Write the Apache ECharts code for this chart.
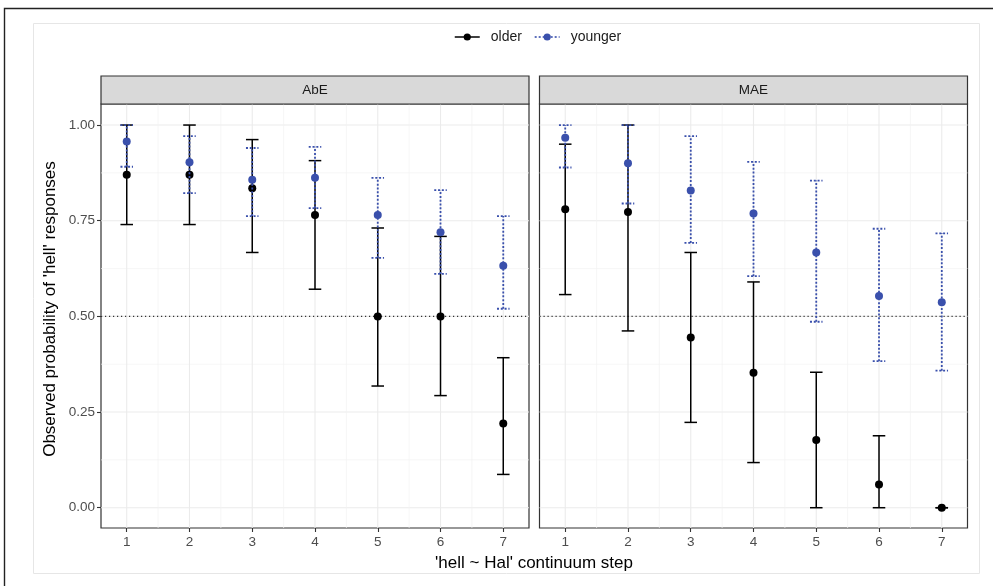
<!DOCTYPE html>
<html>
<head>
<meta charset="utf-8">
<script src="https://cdn.jsdelivr.net/npm/echarts@6/dist/echarts.min.js"></script>
<style>
html,body{margin:0;padding:0;background:#fff;}
#chart{width:993px;height:586px;}
</style>
</head>
<body>
<div id="chart"></div>
<script>
// ---- data ----
const steps = [1, 2, 3, 4, 5, 6, 7];
const panels = ['AbE', 'MAE'];
const groups = ['older', 'younger'];
const yTicks = [0, 0.25, 0.5, 0.75, 1];
const yTickLabels = ['0.00', '0.25', '0.50', '0.75', '1.00'];
const yMinorTicks = [0.125, 0.375, 0.625, 0.875];
const xTicks = [1, 2, 3, 4, 5, 6, 7];
const xMinorTicks = [1.5, 2.5, 3.5, 4.5, 5.5, 6.5];
const refLine = [0.5];

const abeOlderMean  = [0.870, 0.870, 0.835, 0.765, 0.500, 0.500, 0.220];
const abeOlderLow   = [0.740, 0.740, 0.667, 0.571, 0.318, 0.293, 0.087];
const abeOlderHigh  = [1.000, 1.000, 0.962, 0.907, 0.731, 0.709, 0.392];
const abeYoungerMean = [0.957, 0.903, 0.857, 0.862, 0.765, 0.720, 0.632];
const abeYoungerLow  = [0.891, 0.822, 0.762, 0.783, 0.653, 0.611, 0.520];
const abeYoungerHigh = [1.000, 0.971, 0.940, 0.943, 0.862, 0.830, 0.762];

const maeOlderMean  = [0.780, 0.773, 0.445, 0.353, 0.177, 0.061, 0.000];
const maeOlderLow   = [0.557, 0.462, 0.223, 0.118, 0.000, 0.000, 0.000];
const maeOlderHigh  = [0.950, 1.000, 0.667, 0.590, 0.354, 0.188, 0.000];
const maeYoungerMean = [0.967, 0.900, 0.829, 0.769, 0.667, 0.553, 0.537];
const maeYoungerLow  = [0.889, 0.795, 0.692, 0.605, 0.486, 0.383, 0.358];
const maeYoungerHigh = [1.000, 1.000, 0.971, 0.904, 0.855, 0.729, 0.717];

// ---- layout / style ----
const FONT = "'Liberation Sans', Arial, sans-serif";
const X_MIN = 0.59, X_MAX = 7.41, Y_MIN = -0.053, Y_MAX = 1.055;
const CAP = 0.2;
const colors = { older: '#000000', younger: '#3A50AC' };
const dash = { older: null, younger: [2, 1.8] };
const widths = { older: 1.5, younger: 1.8 };
const gridBoxes = [
  { left: 101, top: 104, width: 428, height: 424 },
  { left: 539.5, top: 104, width: 428, height: 424 }
];

const panelData = {
  AbE: {
    older:   { mean: abeOlderMean, low: abeOlderLow, high: abeOlderHigh },
    younger: { mean: abeYoungerMean, low: abeYoungerLow, high: abeYoungerHigh }
  },
  MAE: {
    older:   { mean: maeOlderMean, low: maeOlderLow, high: maeOlderHigh },
    younger: { mean: maeYoungerMean, low: maeYoungerLow, high: maeYoungerHigh }
  }
};

const chart = echarts.init(document.getElementById('chart'), null, { renderer: 'canvas' });

const grids = [], xAxes = [], yAxes = [], series = [];

// gridline renderer: data item = [value, kind]; kind 0 h-major, 1 h-minor, 2 v-major, 3 v-minor
function gridRender(params, api) {
  const v = api.value(0), kind = api.value(1);
  let p1, p2;
  if (kind < 2) { p1 = api.coord([X_MIN, v]); p2 = api.coord([X_MAX, v]); }
  else { p1 = api.coord([v, Y_MIN]); p2 = api.coord([v, Y_MAX]); }
  const major = (kind === 0 || kind === 2);
  return {
    type: 'line',
    shape: { x1: p1[0], y1: p1[1], x2: p2[0], y2: p2[1] },
    style: { stroke: major ? '#EBEBEB' : '#F2F2F2', lineWidth: major ? 1.1 : 0.7 }
  };
}
function refRender(params, api) {
  const v = api.value(0);
  const p1 = api.coord([X_MIN, v]), p2 = api.coord([X_MAX, v]);
  return {
    type: 'line',
    shape: { x1: p1[0], y1: p1[1], x2: p2[0], y2: p2[1] },
    style: { stroke: '#333333', lineWidth: 1.1, lineDash: [1.2, 2.8] }
  };
}
function makeErrRender(color, lineDash, lw) {
  return function (params, api) {
    const x = api.value(0), lo = api.value(1), hi = api.value(2);
    const a = api.coord([x, lo]), b = api.coord([x, hi]);
    const half = api.size([CAP / 2, 0])[0];
    const st = { stroke: color, lineWidth: lw, lineDash: lineDash || null };
    return {
      type: 'group',
      children: [
        { type: 'line', shape: { x1: a[0], y1: a[1], x2: b[0], y2: b[1] }, style: st },
        { type: 'line', shape: { x1: a[0] - half, y1: a[1], x2: a[0] + half, y2: a[1] }, style: st },
        { type: 'line', shape: { x1: b[0] - half, y1: b[1], x2: b[0] + half, y2: b[1] }, style: st }
      ]
    };
  };
}

const gridLineData = []
  .concat(yTicks.map(v => [v, 0]))
  .concat(yMinorTicks.map(v => [v, 1]))
  .concat(xTicks.map(v => [v, 2]))
  .concat(xMinorTicks.map(v => [v, 3]));

// point series first (so legend icons come from them)
panels.forEach((p, gi) => {
  groups.forEach(g => {
    const d = panelData[p][g];
    series.push({
      name: g, type: 'line', xAxisIndex: gi, yAxisIndex: gi,
      data: steps.map((s, i) => [s, d.mean[i]]),
      symbol: 'circle', symbolSize: 8, showSymbol: true,
      lineStyle: { width: 0, opacity: 0 },
      itemStyle: { color: colors[g], borderWidth: 0 },
      z: g === 'older' ? 4 : 6, silent: true, animation: false
    });
  });
});

panels.forEach((p, gi) => {
  grids.push(Object.assign({ show: true, borderColor: '#333333', borderWidth: 1.2, backgroundColor: '#ffffff' }, gridBoxes[gi]));
  xAxes.push({
    type: 'value', gridIndex: gi, min: X_MIN, max: X_MAX,
    axisLine: { show: false, onZero: false }, splitLine: { show: false },
    axisTick: { show: true, customValues: xTicks, length: 4, lineStyle: { color: '#333333', width: 1.1 } },
    axisLabel: { customValues: xTicks, color: '#4D4D4D', fontSize: 13.5, fontFamily: FONT, margin: 7,
                 formatter: v => String(v) }
  });
  yAxes.push({
    type: 'value', gridIndex: gi, min: Y_MIN, max: Y_MAX,
    axisLine: { show: false, onZero: false }, splitLine: { show: false },
    axisTick: { show: gi === 0, customValues: yTicks, length: 4, lineStyle: { color: '#333333', width: 1.1 } },
    axisLabel: { show: gi === 0, customValues: yTicks, color: '#4D4D4D', fontSize: 13.5, fontFamily: FONT, margin: 6,
                 formatter: v => yTickLabels[yTicks.indexOf(Math.round(v * 1000) / 1000)] }
  });
  series.push({
    name: '_grid' + gi, type: 'custom', xAxisIndex: gi, yAxisIndex: gi,
    data: gridLineData, renderItem: gridRender, encode: { x: 0, y: 0 },
    z: 1, silent: true, animation: false
  });
  series.push({
    name: '_ref' + gi, type: 'custom', xAxisIndex: gi, yAxisIndex: gi,
    data: refLine.map(v => [v]), renderItem: refRender, encode: { y: 0 },
    z: 2, silent: true, animation: false
  });
  groups.forEach(g => {
    const d = panelData[p][g];
    series.push({
      name: g, type: 'custom', xAxisIndex: gi, yAxisIndex: gi,
      data: steps.map((s, i) => [s, d.low[i], d.high[i]]),
      renderItem: makeErrRender(colors[g], dash[g], widths[g]),
      encode: { x: 0, y: [1, 2] },
      z: g === 'older' ? 3 : 5, silent: true, animation: false
    });
  });
});

const graphic = [
  { type: 'rect', shape: { x: 4.5, y: 8.5, width: 1010, height: 600 }, style: { fill: null, stroke: '#222222', lineWidth: 1.4 }, z: 0, silent: true },
  { type: 'rect', shape: { x: 33.5, y: 23.5, width: 946, height: 550 }, style: { fill: null, stroke: '#E6E6E6', lineWidth: 1 }, z: 0, silent: true }
];
panels.forEach((p, gi) => {
  const b = gridBoxes[gi];
  graphic.push({ type: 'rect', shape: { x: b.left, y: 76, width: b.width, height: 28 },
                 style: { fill: '#D9D9D9', stroke: '#333333', lineWidth: 1.2 }, z: 10, silent: true });
  graphic.push({ type: 'text', x: b.left + b.width / 2, y: 90,
                 style: { text: p, fill: '#1A1A1A', font: '13.5px ' + FONT, textAlign: 'center', textVerticalAlign: 'middle' },
                 z: 11, silent: true });
});
graphic.push({ type: 'text', x: 534, y: 563,
               style: { text: "'hell ~ Hal' continuum step", fill: '#000000', font: '17px ' + FONT, textAlign: 'center', textVerticalAlign: 'middle' },
               z: 11, silent: true });
graphic.push({ type: 'text', x: 50, y: 309, rotation: Math.PI / 2,
               style: { text: "Observed probability of 'hell' responses", fill: '#000000', font: '17px ' + FONT, textAlign: 'center', textVerticalAlign: 'middle' },
               z: 11, silent: true });

chart.setOption({
  animation: false,
  backgroundColor: '#ffffff',
  grid: grids, xAxis: xAxes, yAxis: yAxes, series: series,
  legend: {
    left: 454, top: 30, padding: 0, itemGap: 12, itemWidth: 25, itemHeight: 9,
    textStyle: { fontSize: 14, color: '#1A1A1A', fontFamily: FONT, padding: [0, 0, 0, 6] },
    data: [
      { name: 'older', itemStyle: { color: colors.older }, lineStyle: { color: colors.older, width: 1.5, type: 'solid', opacity: 1 } },
      { name: 'younger', itemStyle: { color: colors.younger }, lineStyle: { color: colors.younger, width: 1.6, type: [2, 2], opacity: 1 } }
    ]
  },
  graphic: graphic
});
</script>
</body>
</html>
